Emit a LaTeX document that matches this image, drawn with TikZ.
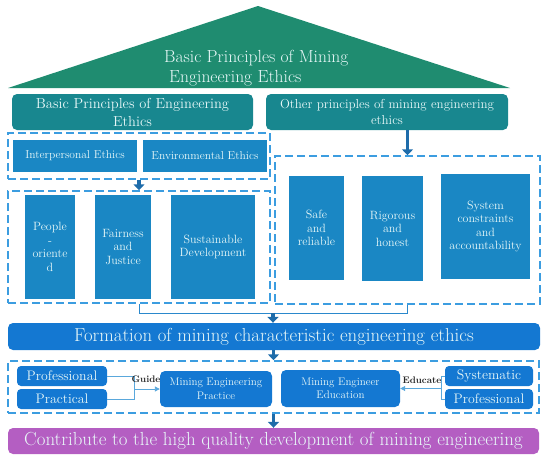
\documentclass[tikz,border=0pt]{standalone}
\usetikzlibrary{arrows.meta}
\definecolor{roofc}{HTML}{1F8C70}
\definecolor{tealc}{HTML}{18878F}
\definecolor{boxc}{HTML}{1A87C4}
\definecolor{formc}{HTML}{1478D2}
\definecolor{purc}{HTML}{B45EC2}
\definecolor{txtc}{HTML}{E8F8F8}
\definecolor{dashc}{HTML}{3C9DE0}
\definecolor{arrc}{HTML}{1E6CAA}
\definecolor{linec}{HTML}{2A88CC}
\definecolor{thinc}{HTML}{5AA8DC}
\tikzset{
  fsz/.style 2 args={font=\fontsize{#1}{#2}\selectfont},
  tealbox/.style={fill=tealc, rounded corners=5pt, text=txtc, align=center, inner sep=0pt},
  bluebox/.style={fill=boxc, text=txtc, align=center, inner sep=0pt},
  formbox/.style={fill=formc, rounded corners=5pt, text=txtc, align=center, inner sep=0pt},
  dbox/.style={draw=dashc, line width=1.5pt, dash pattern=on 8pt off 4pt, inner sep=0pt},
  barrow/.style={draw=arrc, line width=3.5pt, -{Triangle[width=11pt,length=6pt]}},
  conn/.style={draw=linec, line width=1pt},
  thin/.style={draw=thinc, line width=0.9pt},
  thinarrow/.style={draw=thinc, line width=0.9pt, -{Triangle[width=5pt,length=5pt]}},
  lab/.style={text=black!85, font=\fontsize{9.5}{11}\selectfont\bfseries, inner sep=0pt},
}
\begin{document}
\begin{tikzpicture}[x=1pt,y=-1pt]
\useasboundingbox (0,0) rectangle (550,461);
% roof
\fill[roofc] (8,88) -- (258,6) -- (510,88) -- cycle;
\node[text=txtc, align=left, anchor=west, fsz={17.5}{19.5}, inner sep=0pt] (title) at (164,68) {Basic Principles of Mining\\\hspace*{5pt}Engineering Ethics};
% teal headers
\node[tealbox, minimum width=241pt, minimum height=36pt, fsz={14.5}{18}] (t1) at (132.5,112) {Basic Principles of Engineering\\Ethics};
\node[tealbox, minimum width=242pt, minimum height=36pt, fsz={13}{16.5}] (t2) at (387,112) {Other principles of mining engineering\\ethics};
% left dashed groups
\node[dbox, minimum width=262pt, minimum height=46pt] (d1) at (139,156) {};
\node[bluebox, minimum width=124pt, minimum height=32pt, fsz={11.5}{13}] (inter) at (75,156) {Interpersonal Ethics};
\node[bluebox, minimum width=124pt, minimum height=32pt, fsz={11.5}{13}] (env) at (205,156) {Environmental Ethics};
\node[dbox, minimum width=262pt, minimum height=112pt] (d2) at (139,247) {};
\node[bluebox, minimum width=50pt, minimum height=104pt, fsz={12}{13.5}] (people) at (50,247) {People\\-\\oriente\\d};
\node[bluebox, minimum width=56pt, minimum height=104pt, fsz={12}{13.5}] (fair) at (123,247) {Fairness\\and\\Justice};
\node[bluebox, minimum width=84pt, minimum height=104pt, fsz={12}{13.5}] (sust) at (213,247) {Sustainable\\Development};
% right dashed group
\node[dbox, minimum width=265pt, minimum height=148pt] (dr) at (407.5,230) {};
\node[bluebox, minimum width=55pt, minimum height=104pt, fsz={12}{13.5}] (safe) at (316.5,228) {Safe\\and\\reliable};
\node[bluebox, minimum width=61pt, minimum height=105pt, fsz={12}{13.5}] (rig) at (392.5,228.5) {Rigorous\\and\\honest};
\node[bluebox, minimum width=89pt, minimum height=105pt, fsz={12}{13.5}] (sys) at (485.5,226.5) {System\\constraints\\and\\accountability};
% arrows top
\draw[barrow] (d1.south) -- (d2.north);
\draw[barrow] (dr.north |- t2.south) -- (dr.north);
% join to formation
\coordinate (jn) at (273,313);
\draw[conn] (d2.south) -- (d2.south |- jn) -| (dr.south);
\node[formbox, minimum width=532pt, minimum height=27pt, fsz={18.8}{20}] (form) at (274,336.5) {Formation of mining characteristic engineering ethics};
\draw[barrow] (jn) -- (jn |- form.north);
% lower dashed group
\node[dbox, minimum width=531pt, minimum height=52pt] (d3) at (273.5,387) {};
\draw[barrow] (form.south -| d3.north) -- (d3.north);
\node[formbox, rounded corners=4pt, minimum width=90pt, minimum height=20pt, fsz={13.8}{15}] (profl) at (62,376) {Professional};
\node[formbox, rounded corners=4pt, minimum width=90pt, minimum height=20pt, fsz={13.8}{15}] (pract) at (62,399) {Practical};
\node[formbox, minimum width=112pt, minimum height=36pt, fsz={11}{13.5}] (mep) at (216,389) {Mining Engineering\\Practice};
\node[formbox, minimum width=119pt, minimum height=37pt, fsz={11}{13.5}] (mee) at (340.5,388.5) {Mining Engineer\\Education};
\node[formbox, rounded corners=4pt, minimum width=88pt, minimum height=20pt, fsz={13.8}{15}] (syst) at (489,376) {Systematic};
\node[formbox, rounded corners=4pt, minimum width=88pt, minimum height=20pt, fsz={13.8}{15}] (profr) at (489,399) {Professional};
\coordinate (gj) at (134,389);
\draw[thin] (profl.east) -| (gj);
\draw[thin] (pract.east) -| (gj);
\draw[thinarrow] (gj) -- (mep.west);
\node[lab] (guide) at (146,379) {Guide};
\coordinate (ej) at (441,388.5);
\draw[thin] (syst.west) -| (ej);
\draw[thin] (profr.west) -| (ej);
\draw[thinarrow] (ej) -- (mee.east);
\node[lab] (educ) at (422,380) {Educate};
% bottom
\node[formbox, fill=purc, minimum width=531pt, minimum height=26pt, fsz={18.9}{20}] (pur) at (273.5,441) {Contribute to the high quality development of mining engineering};
\draw[barrow] (d3.south) -- (d3.south |- pur.north);
\end{tikzpicture}
\end{document}
